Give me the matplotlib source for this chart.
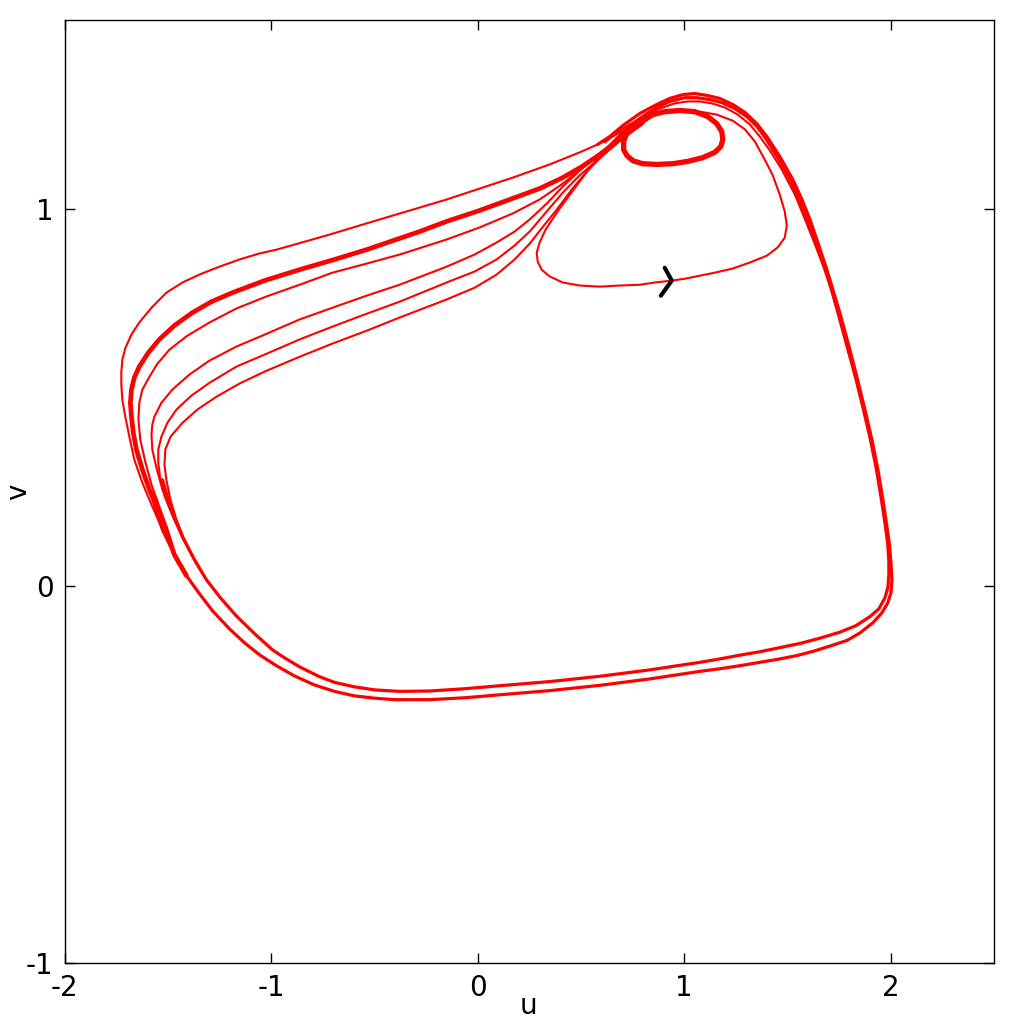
import matplotlib
matplotlib.use("Agg")
import matplotlib.pyplot as plt

plt.rcParams["axes.unicode_minus"] = False

# ---- data (u, v) ----
# outer cycle, lap A (top arc -> right side -> lower bottom line -> left side)
out_a_u = [0.581, 0.640, 0.703, 0.785, 0.867, 0.930, 0.993, 1.051, 1.110, 1.172, 1.235, 1.294, 1.352, 1.400, 1.463,
           1.526, 1.570, 1.609, 1.647, 1.686, 1.720, 1.749, 1.793, 1.836, 1.875, 1.909, 1.938, 1.962, 1.979, 1.994,
           2.001, 2.006, 2.001, 1.986, 1.957, 1.914, 1.851, 1.788, 1.705, 1.623, 1.546, 1.463, 1.366, 1.269, 1.172,
           1.076, 0.833, 0.591, 0.349, 0.107, -0.063, -0.233, -0.402, -0.499, -0.596, -0.693, -0.790, -0.887,
           -0.974, -1.056, -1.129, -1.202, -1.284, -1.347, -1.410, -1.468, -1.526, -1.565, -1.604]
out_a_v = [1.170, 1.191, 1.220, 1.252, 1.276, 1.292, 1.302, 1.305, 1.300, 1.292, 1.276, 1.255, 1.225, 1.191, 1.138,
           1.077, 1.024, 0.971, 0.910, 0.846, 0.785, 0.732, 0.645, 0.554, 0.467, 0.387, 0.308, 0.228, 0.167, 0.109,
           0.061, 0.016, -0.019, -0.045, -0.072, -0.098, -0.125, -0.145, -0.160, -0.174, -0.185, -0.194, -0.203,
           -0.212, -0.220, -0.227, -0.247, -0.264, -0.278, -0.289, -0.297, -0.302, -0.302, -0.298, -0.292, -0.280,
           -0.263, -0.239, -0.212, -0.183, -0.151, -0.114, -0.066, -0.021, 0.027, 0.082, 0.149, 0.215, 0.281]

# outer cycle, lap B (top arc -> right side -> upper bottom line -> left side)
out_b_u = [0.577, 0.640, 0.703, 0.785, 0.867, 0.930, 1.003, 1.061, 1.124, 1.182, 1.245, 1.303, 1.352, 1.395, 1.458,
           1.516, 1.560, 1.599, 1.640, 1.679, 1.713, 1.742, 1.785, 1.829, 1.868, 1.902, 1.931, 1.955, 1.972, 1.986,
           1.991, 1.991, 1.986, 1.972, 1.943, 1.899, 1.831, 1.754, 1.657, 1.560, 1.463, 1.366, 1.269, 1.172, 1.076,
           0.833, 0.591, 0.349, 0.107, -0.063, -0.233, -0.378, -0.499, -0.596, -0.693, -0.766, -0.862, -0.935,
           -0.993, -1.080, -1.168, -1.245, -1.313, -1.371, -1.429, -1.483, -1.526]
out_b_v = [1.138, 1.167, 1.202, 1.239, 1.268, 1.284, 1.294, 1.294, 1.289, 1.281, 1.265, 1.244, 1.218, 1.186, 1.130,
           1.072, 1.019, 0.966, 0.905, 0.844, 0.785, 0.729, 0.642, 0.554, 0.467, 0.387, 0.308, 0.228, 0.167, 0.109,
           0.064, 0.029, -0.005, -0.032, -0.061, -0.082, -0.106, -0.123, -0.139, -0.153, -0.164, -0.175, -0.184,
           -0.194, -0.203, -0.223, -0.240, -0.254, -0.265, -0.273, -0.279, -0.280, -0.276, -0.268, -0.256, -0.241,
           -0.215, -0.191, -0.170, -0.127, -0.080, -0.032, 0.016, 0.069, 0.130, 0.202, 0.281]

# third top arc (merges into the right-hand band)
out_c_u = [0.615, 0.688, 0.785, 0.882, 0.954, 1.017, 1.076, 1.134, 1.197, 1.260, 1.318, 1.366, 1.415, 1.473, 1.536,
           1.589, 1.633, 1.676, 1.715, 1.744]
out_c_v = [1.175, 1.207, 1.239, 1.265, 1.279, 1.284, 1.284, 1.279, 1.268, 1.249, 1.223, 1.191, 1.154, 1.103, 1.037,
           0.966, 0.905, 0.844, 0.785, 0.729]

# upper branches (left turn -> up-right to the crossing)
u1_u = [-1.410, -1.468, -1.526, -1.579, -1.623, -1.662, -1.686, -1.705, -1.720, -1.725, -1.725, -1.720, -1.705,
        -1.676, -1.638, -1.579, -1.507, -1.429, -1.347, -1.250, -1.153, -1.056, -0.974, -0.717, -0.475, -0.150,
        0.170, 0.349, 0.494, 0.581, 0.654, 0.722, 0.785]
u1_v = [0.027, 0.082, 0.149, 0.215, 0.273, 0.334, 0.395, 0.446, 0.493, 0.533, 0.565, 0.599, 0.631,
        0.666, 0.698, 0.737, 0.777, 0.804, 0.825, 0.846, 0.865, 0.881, 0.891, 0.931, 0.971, 1.024,
        1.082, 1.117, 1.149, 1.170, 1.191, 1.212, 1.236]

u2_u = [-1.410, -1.468, -1.512, -1.550, -1.589, -1.623, -1.652, -1.667, -1.676, -1.681, -1.676, -1.662, -1.638,
        -1.594, -1.541, -1.468, -1.381, -1.289, -1.187, -1.032, -0.862, -0.693, -0.538, -0.281, -0.150, 0.010,
        0.170, 0.300, 0.412, 0.504, 0.577, 0.640, 0.688, 0.746, 0.799]
u2_v = [0.027, 0.082, 0.156, 0.207, 0.255, 0.308, 0.361, 0.406, 0.448, 0.485, 0.520, 0.552, 0.581,
        0.618, 0.653, 0.690, 0.724, 0.753, 0.777, 0.809, 0.838, 0.865, 0.891, 0.939, 0.966, 0.995,
        1.027, 1.053, 1.082, 1.111, 1.138, 1.162, 1.183, 1.207, 1.228]

u3_u = [-1.410, -1.468, -1.502, -1.541, -1.579, -1.609, -1.633, -1.642, -1.638, -1.623, -1.589, -1.550, -1.492,
        -1.405, -1.298, -1.168, -1.022, -0.862, -0.703, -0.538, -0.378, -0.150, 0.010, 0.170, 0.300, 0.412,
        0.504, 0.577, 0.649, 0.712]
u3_v = [0.027, 0.082, 0.149, 0.210, 0.268, 0.329, 0.387, 0.440, 0.485, 0.520, 0.554, 0.589, 0.626,
        0.663, 0.698, 0.735, 0.767, 0.798, 0.830, 0.854, 0.878, 0.918, 0.950, 0.987, 1.024, 1.066,
        1.106, 1.138, 1.167, 1.194]

u4_u = [-1.313, -1.371, -1.429, -1.483, -1.526, -1.555, -1.575, -1.579, -1.575, -1.565, -1.531, -1.478, -1.395,
        -1.298, -1.168, -1.022, -0.862, -0.703, -0.538, -0.378, -0.150, -0.015, 0.092, 0.179, 0.252, 0.334,
        0.412, 0.494, 0.577, 0.649, 0.712]
u4_v = [0.016, 0.069, 0.130, 0.196, 0.255, 0.313, 0.361, 0.401, 0.427, 0.448, 0.485, 0.520, 0.560,
        0.597, 0.634, 0.668, 0.706, 0.737, 0.769, 0.798, 0.846, 0.878, 0.910, 0.939, 0.971, 1.013,
        1.058, 1.101, 1.138, 1.167, 1.194]

u5_u = [-1.313, -1.371, -1.424, -1.473, -1.512, -1.536, -1.546, -1.546, -1.531, -1.502, -1.458, -1.386, -1.298,
        -1.168, -1.022, -0.862, -0.703, -0.538, -0.378, -0.150, -0.015, 0.092, 0.179, 0.252, 0.334, 0.412,
        0.494, 0.577, 0.649, 0.712]
u5_v = [0.016, 0.069, 0.122, 0.180, 0.233, 0.281, 0.326, 0.361, 0.395, 0.432, 0.467, 0.504, 0.538,
        0.581, 0.615, 0.653, 0.687, 0.721, 0.753, 0.804, 0.833, 0.865, 0.902, 0.939, 0.992, 1.042,
        1.088, 1.127, 1.162, 1.191]

u6_u = [-1.245, -1.313, -1.371, -1.420, -1.458, -1.487, -1.507, -1.516, -1.512, -1.487, -1.429, -1.357, -1.265,
        -1.153, -1.022, -0.862, -0.703, -0.538, -0.378, -0.150, -0.015, 0.092, 0.179, 0.252, 0.325, 0.383,
        0.455, 0.528, 0.591, 0.654, 0.736]
u6_v = [-0.032, 0.016, 0.069, 0.122, 0.175, 0.228, 0.281, 0.321, 0.361, 0.395, 0.432, 0.467, 0.501,
        0.536, 0.570, 0.607, 0.642, 0.676, 0.711, 0.759, 0.790, 0.825, 0.865, 0.907, 0.958, 0.997,
        1.050, 1.098, 1.133, 1.164, 1.204]

# small limit loop at the top
small_u = [0.809, 0.751, 0.722, 0.707, 0.707, 0.722, 0.751, 0.799, 0.867, 0.945, 1.017, 1.090, 1.148, 1.177, 1.187,
           1.182, 1.158, 1.114, 1.051, 0.979, 0.906, 0.848, 0.809]
small_v = [1.236, 1.218, 1.199, 1.178, 1.156, 1.141, 1.127, 1.119, 1.117, 1.119, 1.125, 1.135, 1.149, 1.164, 1.183,
           1.204, 1.225, 1.244, 1.257, 1.260, 1.257, 1.249, 1.236]

# inner large loop (passes through the black arrow)
inner_u = [0.993, 1.076, 1.158, 1.235, 1.294, 1.342, 1.390, 1.429, 1.463, 1.487, 1.497, 1.487, 1.453, 1.400, 1.318,
           1.235, 1.148, 1.076, 1.003, 0.940, 0.858, 0.785, 0.688, 0.591, 0.494, 0.412, 0.349, 0.310, 0.291, 0.286,
           0.300, 0.329, 0.383, 0.436, 0.494, 0.557, 0.625, 0.688, 0.751, 0.819, 0.896, 0.993]
inner_v = [1.260, 1.257, 1.249, 1.233, 1.210, 1.178, 1.130, 1.088, 1.037, 0.992, 0.955, 0.923, 0.897, 0.875, 0.857,
           0.841, 0.830, 0.822, 0.814, 0.809, 0.804, 0.798, 0.796, 0.793, 0.796, 0.804, 0.820, 0.838, 0.859, 0.883,
           0.910, 0.944, 0.989, 1.029, 1.072, 1.117, 1.156, 1.191, 1.220, 1.241, 1.255, 1.260]

arrow_u = [0.906, 0.940, 0.887]
arrow_v = [0.843, 0.809, 0.769]

xticks = [-2, -1, 0, 1, 2]
yticks = [-1, 0, 1]

# ---- figure ----
fig = plt.figure(figsize=(10.24, 10.24), dpi=100)
ax = fig.add_axes([0.063, 0.0596, 0.9077, 0.9209])

red = "#ff0000"
kw = dict(color=red, solid_joinstyle="round", solid_capstyle="round")
ax.plot(out_a_u, out_a_v, lw=2.3, **kw)
ax.plot(out_b_u, out_b_v, lw=2.3, **kw)
ax.plot(out_c_u, out_c_v, lw=1.5, **kw)
ax.plot(u1_u, u1_v, lw=1.5, **kw)
ax.plot(u2_u, u2_v, lw=3.4, **kw)
for uu, vv in [(u3_u, u3_v), (u4_u, u4_v), (u5_u, u5_v), (u6_u, u6_v)]:
    ax.plot(uu, vv, lw=1.5, **kw)
ax.plot(small_u, small_v, lw=3.8, **kw)
ax.plot(inner_u, inner_v, lw=1.5, **kw)
ax.plot(arrow_u, arrow_v, color="black", lw=3.0, solid_joinstyle="miter", solid_capstyle="round")

ax.set_xlim(-2, 2.5)
ax.set_ylim(-1, 1.5)
ax.set_xticks(xticks)
ax.set_yticks(yticks)
ax.tick_params(direction="in", length=7, width=1, top=True, right=True, labelsize=20, pad=8)
for s in ax.spines.values():
    s.set_linewidth(1.0)
ax.set_xlabel("u", fontsize=20)
ax.set_ylabel("v", fontsize=20)
ax.xaxis.set_label_coords(0.4987, -0.031)
ax.yaxis.set_label_coords(-0.035, 0.4995)

fig.savefig("out.png", dpi=100)
